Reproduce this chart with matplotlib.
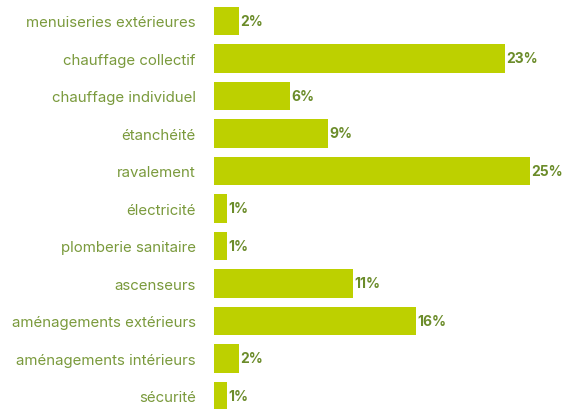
import matplotlib.pyplot as plt

categories = ['menuiseries extérieures', 'chauffage collectif', 'chauffage individuel',
              'étanchéité', 'ravalement', 'électricité', 'plomberie sanitaire',
              'ascenseurs', 'aménagements extérieurs', 'aménagements intérieurs', 'sécurité']
values = [2, 23, 6, 9, 25, 1, 1, 11, 16, 2, 1]
value_labels = ['2%', '23%', '6%', '9%', '25%', '1%', '1%', '11%', '16%', '2%', '1%']

plt.rcParams['font.family'] = ['Inter', 'DejaVu Sans']

fig = plt.figure(figsize=(5.63, 4.10), dpi=100)
ax = fig.add_axes([214 / 563, 0, 349 / 563, 1])

y = range(len(categories))
ax.barh(y, values, height=0.77, color='#bdd000')
for yi, v, lab in zip(y, values, value_labels):
    ax.text(v + 0.1, yi, lab, va='center', ha='left', fontsize=10,
            fontweight='bold', color='#6b8c2a')

ax.set_yticks(list(y))
ax.set_yticklabels(categories, fontsize=10.8, color='#7a9a3c')
ax.tick_params(axis='y', length=0, pad=13)
ax.set_xticks([])
ax.set_xlim(0, 25 * 349 / 316)
ax.set_ylim(10 + 13 / 37.5, -22 / 37.5)
for s in ax.spines.values():
    s.set_visible(False)

fig.savefig('out.png', dpi=100)
